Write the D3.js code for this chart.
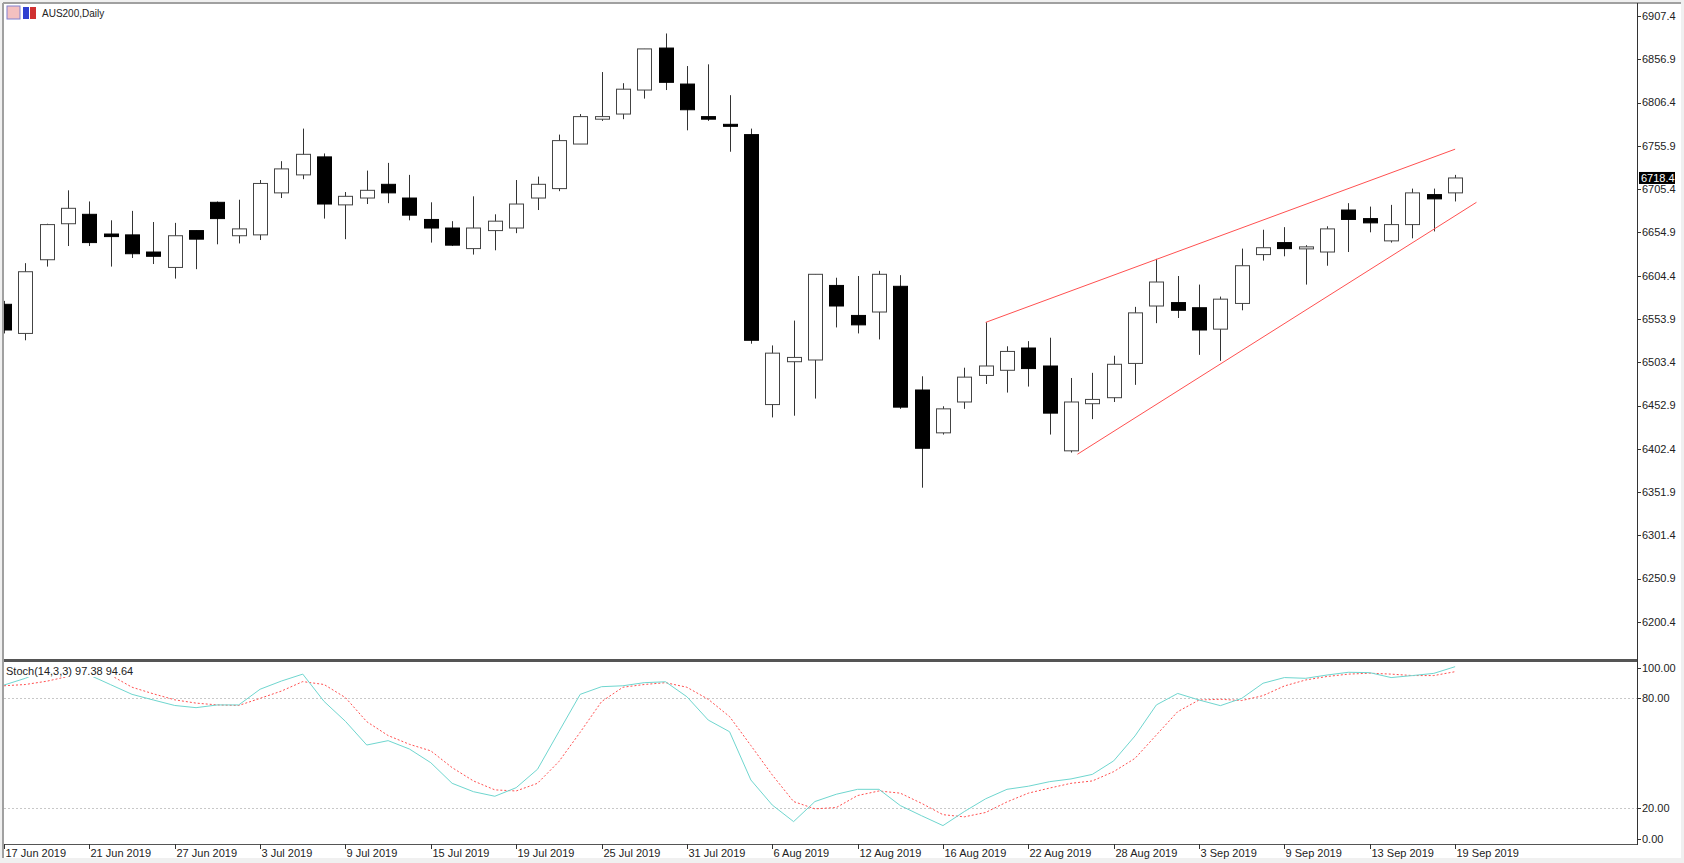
<!DOCTYPE html>
<html>
<head>
<meta charset="utf-8">
<script src="https://cdn.jsdelivr.net/npm/d3@7"></script>
<style>
  body { margin: 0; background: #fff; overflow: hidden; }
  svg { display: block; font-family: Tahoma, "Liberation Sans", "DejaVu Sans", sans-serif; }
</style>
</head>
<body>
<div id="chart"></div>
<script>
// AUS200 daily candles, 17 Jun 2019 .. 19 Sep 2019 (69 bars)
const opens  = [6571,6537,6623,6665,6676,6653,6652,6632,6614,6657,6690,6651,6652,6701,6722,6743,6687,6695,6711,6695,6670,6660,6636,6657,6660,6695,6706,6758,6787,6793,6821,6870,6828,6790,6781,6769,6454,6504,6506,6593,6558,6562,6592,6471,6421,6457,6488,6494,6520,6499,6400,6455,6462,6502,6569,6573,6567,6542,6572,6629,6643,6636,6632,6681,6671,6645,6664,6699,6701];
const highs  = [6575,6619,6665,6704,6691,6669,6680,6667,6666,6657,6691,6693,6716,6738,6776,6747,6702,6727,6736,6722,6690,6668,6697,6676,6716,6720,6769,6793,6842,6829,6869,6887,6849,6851,6815,6776,6523,6552,6606,6602,6604,6610,6605,6487,6452,6497,6550,6522,6528,6532,6485,6491,6511,6568,6624,6604,6594,6580,6636,6658,6661,6640,6662,6689,6685,6687,6706,6706,6722];
const lows   = [6537,6529,6615,6639,6639,6615,6625,6618,6601,6612,6641,6642,6646,6695,6717,6671,6647,6688,6689,6669,6643,6639,6629,6634,6654,6681,6703,6758,6785,6787,6811,6821,6774,6785,6749,6525,6439,6441,6461,6544,6537,6530,6449,6357,6419,6449,6478,6468,6475,6419,6398,6437,6457,6477,6549,6555,6512,6505,6564,6622,6627,6594,6616,6632,6655,6643,6648,6656,6691];
const closes = [6541,6609,6664,6683,6643,6650,6630,6627,6651,6647,6671,6659,6712,6729,6746,6688,6697,6704,6701,6675,6660,6640,6660,6668,6688,6711,6762,6790,6790,6822,6869,6830,6798,6787,6779,6529,6514,6509,6606,6569,6547,6606,6451,6403,6449,6486,6499,6516,6496,6444,6457,6460,6501,6561,6597,6564,6541,6577,6616,6637,6636,6638,6659,6670,6666,6664,6701,6694,6718.4];

// Stochastic(14,3,3) main and signal lines
const stochMain   = [87.3,91,96,97,92.8,87.5,82.2,79.1,76.1,74.9,76.4,76.4,85,89.5,93.3,78.3,67.4,54.4,56.8,52.2,44.7,33.4,28.8,26.3,31,41.1,61.7,82.2,86.4,86.9,88.6,89.1,80.9,68.1,61.7,35.2,21.5,12.4,23.4,27.4,30.1,30.1,21.2,15.6,10.2,17.9,24.9,30.1,31.8,34.3,35.8,38.3,45.7,59.4,76.4,82.7,79.1,76,80,88.3,91.4,91,92.8,94.3,94.1,91.4,92.5,93.7,97.38];
const stochSignal = [86.9,87.6,89.4,92,93.5,92.7,86.1,82.5,79.2,77.4,76.4,76.1,80,84,89.2,87.6,80.4,67.2,59.6,54.8,51.2,42,34.7,29.8,29.2,33.4,45.3,61.4,78.2,86.1,87.6,88.6,86.1,79.5,70,54.1,38,23.4,19.4,20.1,26.7,29.2,28,22.4,16.2,15,17.4,23.2,28,30.8,33.4,34.7,39.8,47.1,59.9,72.7,79.1,79.5,78.8,81.5,86.8,90.1,92,93.3,93.8,93.3,92.5,92.5,94.64];

const dateTicks = [[0,"17 Jun 2019"],[4,"21 Jun 2019"],[8,"27 Jun 2019"],[12,"3 Jul 2019"],[16,"9 Jul 2019"],[20,"15 Jul 2019"],[24,"19 Jul 2019"],[28,"25 Jul 2019"],[32,"31 Jul 2019"],[36,"6 Aug 2019"],[40,"12 Aug 2019"],[44,"16 Aug 2019"],[48,"22 Aug 2019"],[52,"28 Aug 2019"],[56,"3 Sep 2019"],[60,"9 Sep 2019"],[64,"13 Sep 2019"],[68,"19 Sep 2019"]];
const priceTicks = [6907.4,6856.9,6806.4,6755.9,6705.4,6654.9,6604.4,6553.9,6503.4,6452.9,6402.4,6351.9,6301.4,6250.9,6200.4];
const stochTicks = [100,80,20,0];
const stochLevels = [80,20];
const trendUpper = [[46,6549.9],[68,6752]];
const trendLower = [[50.3,6396],[69,6690]];
const lastPrice = 6718.4;

const W = 1684, H = 863;
const axisX = 1637;
const svg = d3.select("#chart").append("svg").attr("width", W).attr("height", H);

const x = d3.scaleLinear().domain([0, 68]).range([4, 4 + 68 * 21.34]);
const yP = d3.scaleLinear().domain([6200.4, 6907.4]).range([621.9, 16]);
const yS = d3.scaleLinear().domain([0, 100]).range([844.2, 661.9]);

// ---------- frame ----------
svg.append("rect").attr("x", 0).attr("y", 0).attr("width", W).attr("height", H).attr("fill", "#f0f0f0");
svg.append("rect").attr("x", 3).attr("y", 3).attr("width", W - 6).attr("height", 855).attr("fill", "#fff");
svg.append("line").attr("x1", 3).attr("x2", 3).attr("y1", 3).attr("y2", 858).attr("stroke", "#a0a0a0").attr("stroke-width", 2);
svg.append("line").attr("x1", 3).attr("x2", W - 3).attr("y1", 3).attr("y2", 3).attr("stroke", "#a0a0a0").attr("stroke-width", 2);
svg.append("line").attr("x1", 4).attr("x2", axisX).attr("y1", 660.5).attr("y2", 660.5).attr("stroke", "#555").attr("stroke-width", 3);
svg.append("line").attr("x1", 4).attr("x2", axisX).attr("y1", 844.5).attr("y2", 844.5).attr("stroke", "#555");
svg.append("line").attr("x1", axisX + 0.5).attr("x2", axisX + 0.5).attr("y1", 3).attr("y2", 845).attr("stroke", "#333");

const plot = svg.append("g");
plot.append("clipPath").attr("id", "clipP").append("rect").attr("x", 4).attr("y", 4).attr("width", axisX - 4).attr("height", 655);

// ---------- candles ----------
const bars = d3.range(opens.length).map(i => ({ i, o: opens[i], h: highs[i], l: lows[i], c: closes[i] }));
const cg = plot.append("g").attr("clip-path", "url(#clipP)");
cg.selectAll("line.wick").data(bars).enter().append("line")
  .attr("x1", d => Math.round(x(d.i)) + 0.5).attr("x2", d => Math.round(x(d.i)) + 0.5)
  .attr("y1", d => yP(d.h)).attr("y2", d => yP(d.l))
  .attr("stroke", "#333").attr("stroke-width", 1);
cg.selectAll("rect.body").data(bars).enter().append("rect")
  .attr("x", d => Math.round(x(d.i)) - 7 + 0.5)
  .attr("y", d => yP(Math.max(d.o, d.c)))
  .attr("width", 14)
  .attr("height", d => Math.max(2, Math.abs(yP(d.o) - yP(d.c))))
  .attr("fill", d => d.c >= d.o ? "#fff" : "#000")
  .attr("stroke", d => d.c >= d.o ? "#444" : "#000")
  .attr("stroke-width", 1);

// ---------- trend lines ----------
[trendUpper, trendLower].forEach(t => {
  cg.append("line")
    .attr("x1", x(t[0][0])).attr("y1", yP(t[0][1]))
    .attr("x2", x(t[1][0])).attr("y2", yP(t[1][1]))
    .attr("stroke", "#ff5050").attr("stroke-width", 1);
});

// ---------- price axis ----------
const pa = svg.append("g").attr("font-size", 11).attr("fill", "#222");
priceTicks.forEach(v => {
  pa.append("line").attr("x1", axisX).attr("x2", axisX + 4).attr("y1", Math.round(yP(v)) + 0.5).attr("y2", Math.round(yP(v)) + 0.5).attr("stroke", "#333");
  pa.append("text").attr("x", axisX + 5).attr("y", yP(v)).attr("dy", "0.35em").text(v.toFixed(1));
});
pa.append("rect").attr("x", axisX + 2).attr("y", yP(lastPrice) - 6).attr("width", 36).attr("height", 12).attr("fill", "#000");
pa.append("text").attr("x", axisX + 4).attr("y", yP(lastPrice)).attr("dy", "0.35em").attr("fill", "#fff").text(lastPrice.toFixed(1));

// ---------- title ----------
svg.append("rect").attr("x", 7).attr("y", 6).attr("width", 13).attr("height", 13).attr("fill", "#f4c0c0").attr("stroke", "#8080d0");
svg.append("rect").attr("x", 23).attr("y", 7).attr("width", 6).attr("height", 12).attr("fill", "#3040d0");
svg.append("rect").attr("x", 30).attr("y", 7).attr("width", 6).attr("height", 12).attr("fill", "#d03030");
svg.append("text").attr("x", 42).attr("y", 17).attr("font-size", 10).attr("fill", "#222").text("AUS200,Daily");

// ---------- stochastic ----------
const sg = svg.append("g");
stochLevels.forEach(v => {
  sg.append("line").attr("x1", 4).attr("x2", axisX).attr("y1", Math.round(yS(v)) + 0.5).attr("y2", Math.round(yS(v)) + 0.5)
    .attr("stroke", "#c8c8c8").attr("stroke-dasharray", "2,2");
});
const lineGen = arr => d3.line().x((d, i) => x(i)).y(d => yS(d))(arr);
sg.append("path").attr("d", lineGen(stochSignal)).attr("fill", "none").attr("stroke", "#ff5050").attr("stroke-dasharray", "2,2");
sg.append("path").attr("d", lineGen(stochMain)).attr("fill", "none").attr("stroke", "#6fd6cf");
sg.append("rect").attr("x", 5).attr("y", 664).attr("width", 113).attr("height", 13).attr("fill", "#fff");
sg.append("text").attr("x", 6).attr("y", 675).attr("font-size", 11).attr("fill", "#222")
  .text(`Stoch(14,3,3) ${stochMain[stochMain.length - 1].toFixed(2)} ${stochSignal[stochSignal.length - 1].toFixed(2)}`);
stochTicks.forEach(v => {
  const yy = Math.min(839, Math.max(668, yS(v)));
  sg.append("line").attr("x1", axisX).attr("x2", axisX + 4).attr("y1", Math.round(yy) + 0.5).attr("y2", Math.round(yy) + 0.5).attr("stroke", "#333");
  sg.append("text").attr("x", axisX + 5).attr("y", yy).attr("dy", "0.35em").attr("font-size", 11).attr("fill", "#222").text(v.toFixed(2));
});

// ---------- date axis ----------
const da = svg.append("g").attr("font-size", 11).attr("fill", "#222");
dateTicks.forEach(([i, label]) => {
  const xx = Math.round(x(i)) + 0.5;
  da.append("line").attr("x1", xx).attr("x2", xx).attr("y1", 844).attr("y2", 849).attr("stroke", "#333");
  da.append("text").attr("x", xx + 1).attr("y", 856).attr("dy", "0.1em").text(label);
});
</script>
</body>
</html>
